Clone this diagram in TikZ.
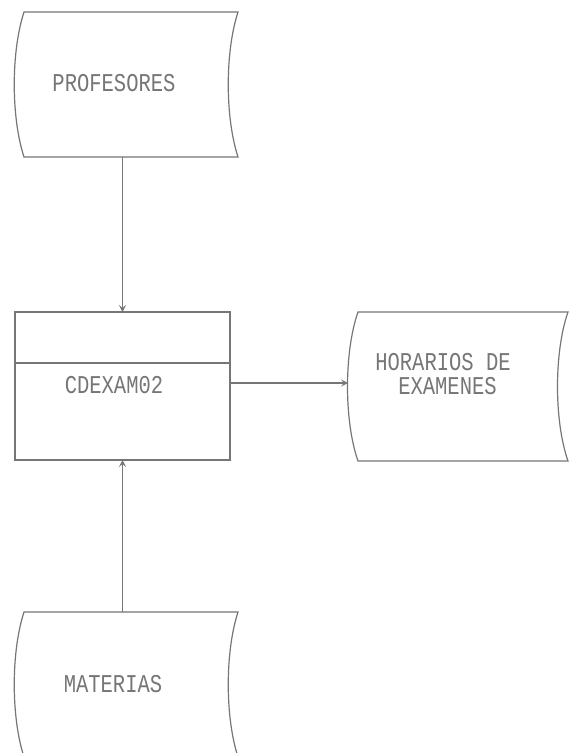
\documentclass[tikz,border=0pt]{standalone}
\usepackage{fontspec}
\newfontfamily\dotfont{Liberation Mono}
\usetikzlibrary{arrows.meta,calc}
\definecolor{ink}{RGB}{118,118,118}
\newcommand\dm[1]{\scalebox{1}[1.25]{#1}}
\newcommand\storage[2]{%
  \draw[line] (#1.north west) -- (#1.north east)
    .. controls ($(#1.north east)+(-#2,40)$) and ($(#1.south east)+(-#2,-40)$) .. (#1.south east)
    -- (#1.south west)
    .. controls ($(#1.south west)+(-#2,-40)$) and ($(#1.north west)+(-#2,40)$) .. (#1.north west) -- cycle;}
\begin{document}
\begin{tikzpicture}[x=1pt,y=-1pt,
  line/.style={draw=ink,line width=1.2pt},
  arr/.style={line,-{Stealth[length=7pt,width=7pt,inset=3pt]}},
  frame/.style={inner sep=0pt,outer sep=0pt},
  lbl/.style={inner sep=0pt,text=ink,font=\dotfont\fontsize{20.5}{24}\selectfont}]
\useasboundingbox (0,0) rectangle (569,753);
\fill[white] (0,0) rectangle (569,753);
\clip (0,0) rectangle (569,753);
% frames
\node[frame,minimum width=214pt,minimum height=145pt] (profbox) at (131,84.5) {};
\node[frame,minimum width=215pt,minimum height=148pt] (procbox) at (122.5,386) {};
\node[frame,minimum width=210pt,minimum height=149pt] (horbox) at (463,386.5) {};
\node[frame,minimum width=214pt,minimum height=145pt] (matbox) at (131,684.5) {};
% shapes
\storage{profbox}{13}
\storage{horbox}{14}
\storage{matbox}{13}
\draw[line] (procbox.north west) rectangle (procbox.south east);
\draw[line] ($(procbox.north west)+(0,51)$) -- ($(procbox.north east)+(0,51)$);
% texts
\node[lbl] (prof) at (114,83.5) {\dm{PROFESORES}};
\node[lbl] (proc) at (114,385) {\dm{CDEXAM02}};
\node[lbl] (hor1) at (443,362.5) {\dm{HORARIOS DE}};
\node[lbl] (hor2) at (447.5,386) {\dm{EXAMENES}};
\node[lbl] (mat) at (113,684) {\dm{MATERIAS}};
% connectors
\coordinate (horin) at (348,383);
\draw[arr] (procbox.north |- profbox.south) -- (procbox.north);
\draw[arr] (procbox.south |- matbox.north) -- (procbox.south);
\draw[arr] (procbox.east |- horin) -- (horin);
\end{tikzpicture}
\end{document}
